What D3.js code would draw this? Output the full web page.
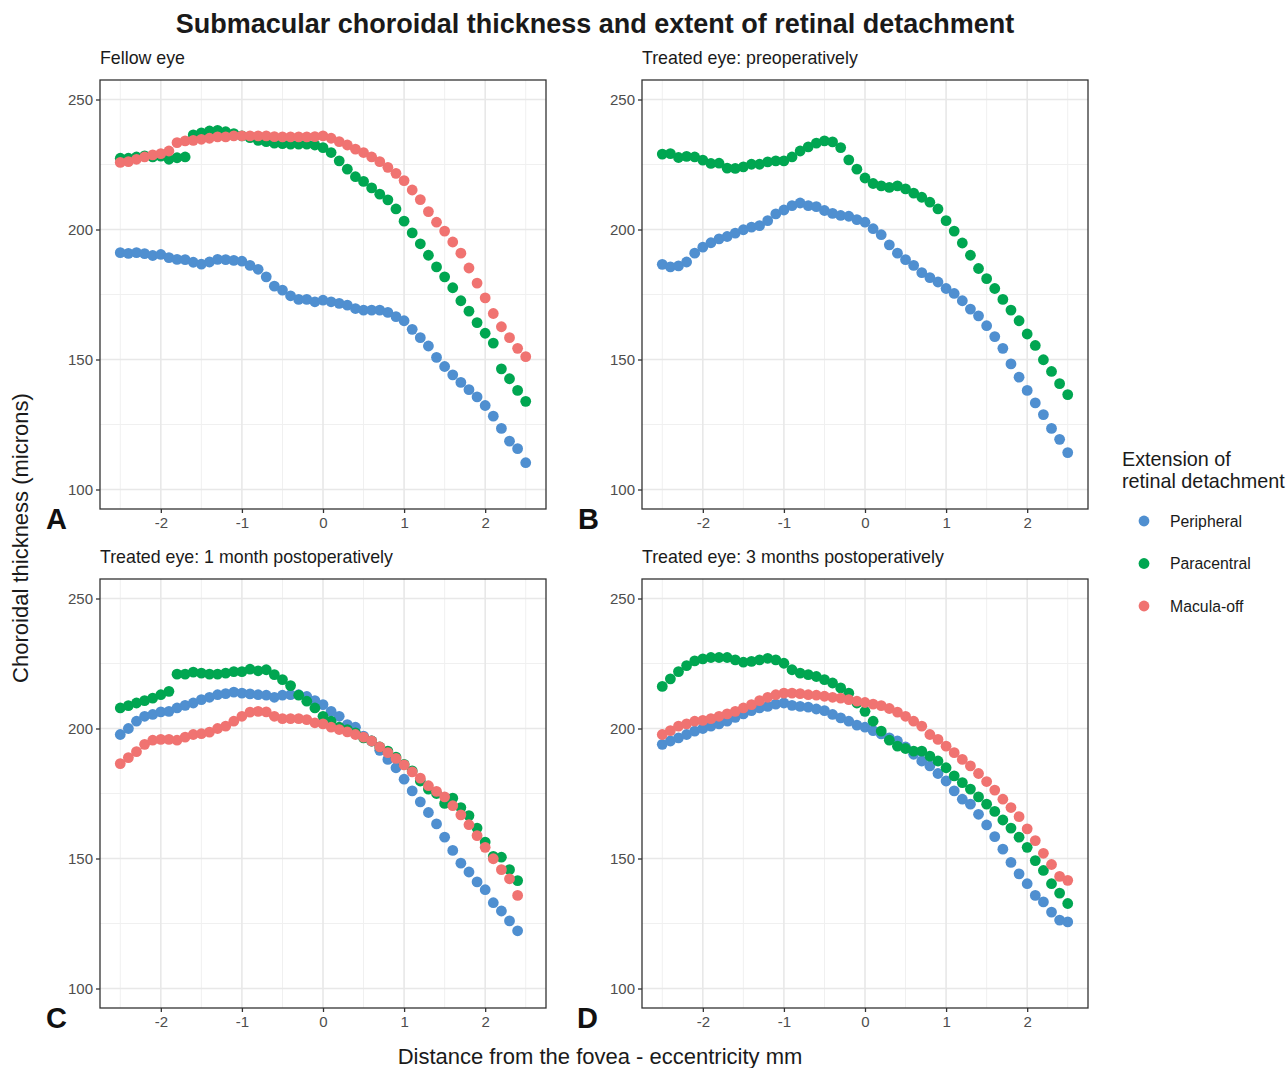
<!DOCTYPE html>
<html>
<head>
<meta charset="utf-8">
<script src="https://cdn.jsdelivr.net/npm/d3@7"></script>
<style>
  body { margin: 0; background: #fff; }
  text { font-family: "Liberation Sans", Arial, sans-serif; }
</style>
</head>
<body>
<svg id="chart" width="1286" height="1068"></svg>
<script>
// eccentricity (mm) for every measured point
var eccentricity = [-2.5, -2.4, -2.3, -2.2, -2.1, -2.0, -1.9, -1.8, -1.7, -1.6, -1.5, -1.4, -1.3, -1.2, -1.1, -1.0,
  -0.9, -0.8, -0.7, -0.6, -0.5, -0.4, -0.3, -0.2, -0.1, 0.0, 0.1, 0.2, 0.3, 0.4, 0.5, 0.6, 0.7, 0.8, 0.9, 1.0,
  1.1, 1.2, 1.3, 1.4, 1.5, 1.6, 1.7, 1.8, 1.9, 2.0, 2.1, 2.2, 2.3, 2.4, 2.5];

var groups = ['Peripheral', 'Paracentral', 'Macula-off'];
var groupColors = ['#4f8fd0', '#00a651', '#f07371'];
var xTicks = [-2, -1, 0, 1, 2];
var yTicks = [100, 150, 200, 250];

// A: fellow eye
var fellowPeripheral = [191.1, 190.8, 191.1, 190.7, 190.0, 190.4, 189.2, 188.5, 188.4, 187.4, 186.7, 187.5, 188.5,
  188.4, 188.1, 187.8, 186.2, 184.7, 181.8, 178.2, 176.7, 174.5, 173.1, 173.1, 172.2,
  172.8, 172.2, 171.6, 170.9, 169.6, 169.0, 169.0, 169.0, 168.1, 166.5, 164.9, 161.6, 158.4, 155.2, 150.8,
  147.3, 144.1, 141.2, 138.4, 135.6, 132.3, 128.2, 123.5, 118.6, 115.7, 110.3];
var fellowParacentral = [227.4, 227.4, 227.9, 228.3, 227.9, 228.2, 227.0, 227.6, 227.9, 236.4, 237.2, 237.9, 238.1,
  237.6, 236.9, 236.0, 235.3, 234.3, 233.8, 233.2, 233.0, 232.8, 232.8, 232.8, 232.5,
  231.5, 229.6, 226.4, 223.2, 220.3, 218.5, 216.0, 213.6, 211.4, 207.9, 203.2, 198.7, 194.5, 190.1, 185.6,
  181.8, 177.6, 172.6, 168.6, 164.2, 160.1, 156.3, 146.4, 142.6, 138.1, 133.9];
var fellowMaculaOff = [225.8, 226.1, 227.0, 227.9, 228.7, 229.2, 230.2, 233.4, 234.1, 234.3, 234.7, 235.1, 235.6,
  235.6, 236.0, 236.0, 236.0, 236.0, 236.0, 235.7, 235.6, 235.6, 235.6, 235.6, 235.7,
  236.0, 235.1, 233.8, 232.5, 230.9, 229.6, 227.9, 226.1, 223.9, 221.6, 218.8, 215.2, 211.5, 206.9, 202.8,
  199.4, 195.2, 190.9, 185.2, 179.4, 173.7, 167.7, 162.6, 158.4, 154.3, 151.1];

// B: treated eye, preoperatively
var preopPeripheral = [186.6, 185.6, 186.0, 187.5, 190.9, 193.2, 194.9, 196.4, 197.3, 198.6, 199.9, 200.9, 201.5,
  203.4, 206.0, 207.5, 209.2, 210.2, 209.2, 208.8, 207.3, 206.2, 205.4, 205.1, 203.8,
  202.8, 200.3, 198.0, 194.1, 190.9, 188.4, 186.2, 183.4, 181.5, 179.8, 177.3, 175.4, 172.6, 169.4, 166.8,
  163.0, 158.8, 154.3, 148.3, 143.2, 138.1, 133.3, 128.8, 123.5, 119.3, 114.2];
var preopParacentral = [229.0, 229.2, 227.7, 228.1, 227.9, 226.7, 225.4, 225.5, 223.6, 223.5, 224.1, 225.1, 225.1,
  226.0, 226.4, 226.4, 227.9, 230.2, 231.8, 233.2, 234.1, 233.7, 231.5, 226.8, 223.2,
  219.8, 217.7, 216.8, 216.2, 216.8, 215.6, 214.0, 212.4, 210.5, 207.9, 203.4, 199.4, 194.8, 190.1, 185.0,
  181.1, 177.3, 173.1, 169.0, 164.9, 159.8, 155.4, 149.9, 145.4, 140.7, 136.5];
var preopMaculaOff = [];

// C: 1 month postoperatively (measured up to 2.4 mm)
var month1Peripheral = [197.7, 200.0, 202.8, 204.7, 205.4, 206.4, 206.6, 207.9, 208.9, 209.8, 211.1, 212.0, 213.0,
  213.4, 214.0, 213.6, 213.3, 213.0, 212.8, 212.0, 212.8, 213.0, 213.0, 212.3, 210.7,
  209.2, 206.6, 204.7, 201.5, 200.5, 197.1, 195.2, 191.6, 188.1, 184.9, 180.5, 176.0, 171.8, 167.7, 163.3,
  158.2, 153.1, 148.2, 144.8, 141.0, 138.0, 133.0, 129.8, 126.0, 122.2];
var month1Paracentral = [207.9, 208.8, 209.8, 210.7, 211.7, 213.0, 214.3, 220.9, 220.9, 221.7, 221.3, 220.9, 220.9,
  221.3, 221.9, 221.9, 222.8, 222.2, 222.6, 220.7, 218.8, 216.5, 212.8, 210.5, 207.9,
  204.7, 202.8, 200.5, 199.6, 198.3, 196.4, 195.2, 192.9, 191.3, 189.0, 186.2, 183.7, 179.8, 176.7, 175.0,
  171.2, 173.2, 169.6, 166.5, 161.7, 156.3, 150.8, 150.5, 145.7, 141.5];
var month1MaculaOff = [186.5, 188.8, 191.1, 193.9, 195.5, 195.8, 195.8, 195.5, 196.7, 197.7, 198.0, 198.6, 200.0,
  200.9, 202.8, 204.7, 206.3, 206.6, 206.4, 204.7, 203.8, 203.8, 203.8, 203.4, 202.2,
  201.8, 200.5, 199.6, 198.7, 197.7, 196.7, 195.2, 192.9, 190.7, 188.5, 186.0, 183.3, 180.9, 178.0, 175.8,
  173.7, 170.3, 166.8, 163.0, 158.8, 154.3, 149.9, 145.7, 142.2, 135.8];

// D: 3 months postoperatively
var month3Peripheral = [193.9, 195.2, 196.4, 197.7, 199.0, 200.0, 200.9, 201.8, 202.8, 204.3, 205.6, 206.9, 207.9,
  208.5, 209.4, 209.8, 208.9, 208.5, 208.2, 207.5, 206.9, 205.4, 204.1, 202.8, 201.3,
  200.5, 199.2, 197.9, 196.4, 195.2, 192.9, 190.1, 187.5, 185.6, 182.7, 179.8, 176.0, 172.8, 170.9, 167.0,
  162.9, 158.4, 153.6, 148.5, 144.1, 140.3, 135.8, 133.3, 129.4, 126.3, 125.6];
var month3Paracentral = [216.2, 219.1, 221.9, 224.2, 226.0, 226.8, 227.3, 227.3, 227.3, 226.4, 225.5, 225.8, 226.4,
  227.0, 226.4, 225.1, 222.6, 221.3, 220.7, 220.0, 218.8, 217.5, 215.6, 213.6, 209.8,
  206.6, 202.8, 199.0, 195.5, 193.2, 192.3, 191.3, 191.3, 189.4, 187.5, 184.9, 181.8, 179.2, 176.7, 173.7,
  170.9, 168.1, 164.8, 161.7, 158.2, 154.3, 149.2, 145.4, 140.3, 136.7, 132.7];
var month3MaculaOff = [197.7, 199.2, 200.9, 201.8, 202.8, 203.1, 203.8, 204.7, 205.6, 206.6, 207.9, 209.2, 210.7,
  212.0, 213.0, 213.6, 213.6, 213.4, 213.0, 212.8, 212.4, 212.0, 211.7, 211.1, 210.5,
  210.0, 209.4, 208.8, 207.7, 206.3, 204.7, 202.8, 200.9, 197.7, 195.8, 193.2, 190.7, 188.1, 185.6, 182.7,
  179.6, 176.3, 172.8, 169.6, 166.1, 161.4, 156.9, 152.0, 147.7, 143.1, 141.6];

var panels = [
  { letter: 'A', title: 'Fellow eye', left: 100, top: 80, letterX: 46,
    series: [fellowPeripheral, fellowParacentral, fellowMaculaOff] },
  { letter: 'B', title: 'Treated eye: preoperatively', left: 642, top: 80, letterX: 578,
    series: [preopPeripheral, preopParacentral, preopMaculaOff] },
  { letter: 'C', title: 'Treated eye: 1 month postoperatively', left: 100, top: 579, letterX: 46,
    series: [month1Peripheral, month1Paracentral, month1MaculaOff] },
  { letter: 'D', title: 'Treated eye: 3 months postoperatively', left: 642, top: 579, letterX: 577,
    series: [month3Peripheral, month3Paracentral, month3MaculaOff] }
];

var panelW = 446, panelH = 429;
var svg = d3.select('#chart');

var x = d3.scaleLinear().domain([-2.75, 2.75]).range([0, panelW]);
var y = d3.scaleLinear().domain([92.5, 257.5]).range([panelH, 0]);

svg.append('text')
  .attr('x', 595).attr('y', 33)
  .attr('text-anchor', 'middle')
  .style('font-size', '27px').style('font-weight', 'bold').style('fill', '#1a1a1a')
  .text('Submacular choroidal thickness and extent of retinal detachment');

panels.forEach(function(p) {
  var g = svg.append('g').attr('transform', 'translate(' + p.left + ',' + p.top + ')');

  // minor grid
  var minorX = xTicks.map(function(t) { return t - 0.5; }).concat([2.5]);
  var minorY = yTicks.slice(0, 3).map(function(t) { return t + 25; });
  g.selectAll('line.minx').data(minorX).enter().append('line')
    .attr('x1', function(d) { return x(d); }).attr('x2', function(d) { return x(d); })
    .attr('y1', 0).attr('y2', panelH)
    .style('stroke', '#f0f0f0').style('stroke-width', 1);
  g.selectAll('line.miny').data(minorY).enter().append('line')
    .attr('y1', function(d) { return y(d); }).attr('y2', function(d) { return y(d); })
    .attr('x1', 0).attr('x2', panelW)
    .style('stroke', '#f0f0f0').style('stroke-width', 1);

  // major grid
  g.selectAll('line.majx').data(xTicks).enter().append('line')
    .attr('x1', function(d) { return x(d); }).attr('x2', function(d) { return x(d); })
    .attr('y1', 0).attr('y2', panelH)
    .style('stroke', '#e8e8e8').style('stroke-width', 1.6);
  g.selectAll('line.majy').data(yTicks).enter().append('line')
    .attr('y1', function(d) { return y(d); }).attr('y2', function(d) { return y(d); })
    .attr('x1', 0).attr('x2', panelW)
    .style('stroke', '#e8e8e8').style('stroke-width', 1.6);

  // points: Peripheral, then Paracentral, then Macula-off on top
  p.series.forEach(function(vals, si) {
    g.selectAll('circle.s' + si).data(vals).enter().append('circle')
      .attr('cx', function(d, i) { return x(eccentricity[i]); })
      .attr('cy', function(d) { return y(d); })
      .attr('r', 5.4)
      .style('fill', groupColors[si]);
  });

  g.append('rect')
    .attr('width', panelW).attr('height', panelH)
    .style('fill', 'none').style('stroke', '#333').style('stroke-width', 1.3);

  var xAxis = g.append('g').attr('transform', 'translate(0,' + panelH + ')')
    .call(d3.axisBottom(x).tickValues(xTicks).tickSize(4).tickPadding(4).tickFormat(d3.format('d')));
  var yAxis = g.append('g')
    .call(d3.axisLeft(y).tickValues(yTicks).tickSize(4).tickPadding(3));
  [xAxis, yAxis].forEach(function(a) {
    a.select('.domain').remove();
    a.selectAll('line').style('stroke', '#333').style('stroke-width', 1.3);
    a.selectAll('text').style('font-size', '15px').style('fill', '#4d4d4d')
      .style('font-family', '"Liberation Sans", Arial, sans-serif');
  });
  xAxis.selectAll('text').text(function(d) { return d < 0 ? '-' + Math.abs(d) : d; });

  g.append('text')
    .attr('x', 0).attr('y', -16)
    .style('font-size', '17.8px').style('fill', '#1a1a1a')
    .text(p.title);

  svg.append('text')
    .attr('x', p.letterX).attr('y', p.top + panelH + 20)
    .style('font-size', '29px').style('font-weight', 'bold').style('fill', '#111')
    .text(p.letter);
});

// axis titles
svg.append('text')
  .attr('transform', 'translate(28,538) rotate(-90)')
  .attr('text-anchor', 'middle')
  .style('font-size', '22px').style('fill', '#1a1a1a')
  .text('Choroidal thickness (microns)');

svg.append('text')
  .attr('x', 600).attr('y', 1064)
  .attr('text-anchor', 'middle')
  .style('font-size', '22px').style('fill', '#1a1a1a')
  .text('Distance from the fovea - eccentricity mm');

// legend
var legend = svg.append('g').attr('transform', 'translate(1122,0)');
legend.append('text').attr('x', 0).attr('y', 466)
  .style('font-size', '19.8px').style('fill', '#1a1a1a').text('Extension of');
legend.append('text').attr('x', 0).attr('y', 488)
  .style('font-size', '19.8px').style('fill', '#1a1a1a').text('retinal detachment');
var items = legend.selectAll('g.item').data(groups).enter().append('g')
  .attr('transform', function(d, i) { return 'translate(0,' + (521 + i * 42.5) + ')'; });
items.append('circle').attr('cx', 22).attr('cy', 0).attr('r', 5.4)
  .style('fill', function(d, i) { return groupColors[i]; });
items.append('text').attr('x', 48).attr('y', 5.5)
  .style('font-size', '15.8px').style('fill', '#1a1a1a')
  .text(function(d) { return d; });
</script>
</body>
</html>
